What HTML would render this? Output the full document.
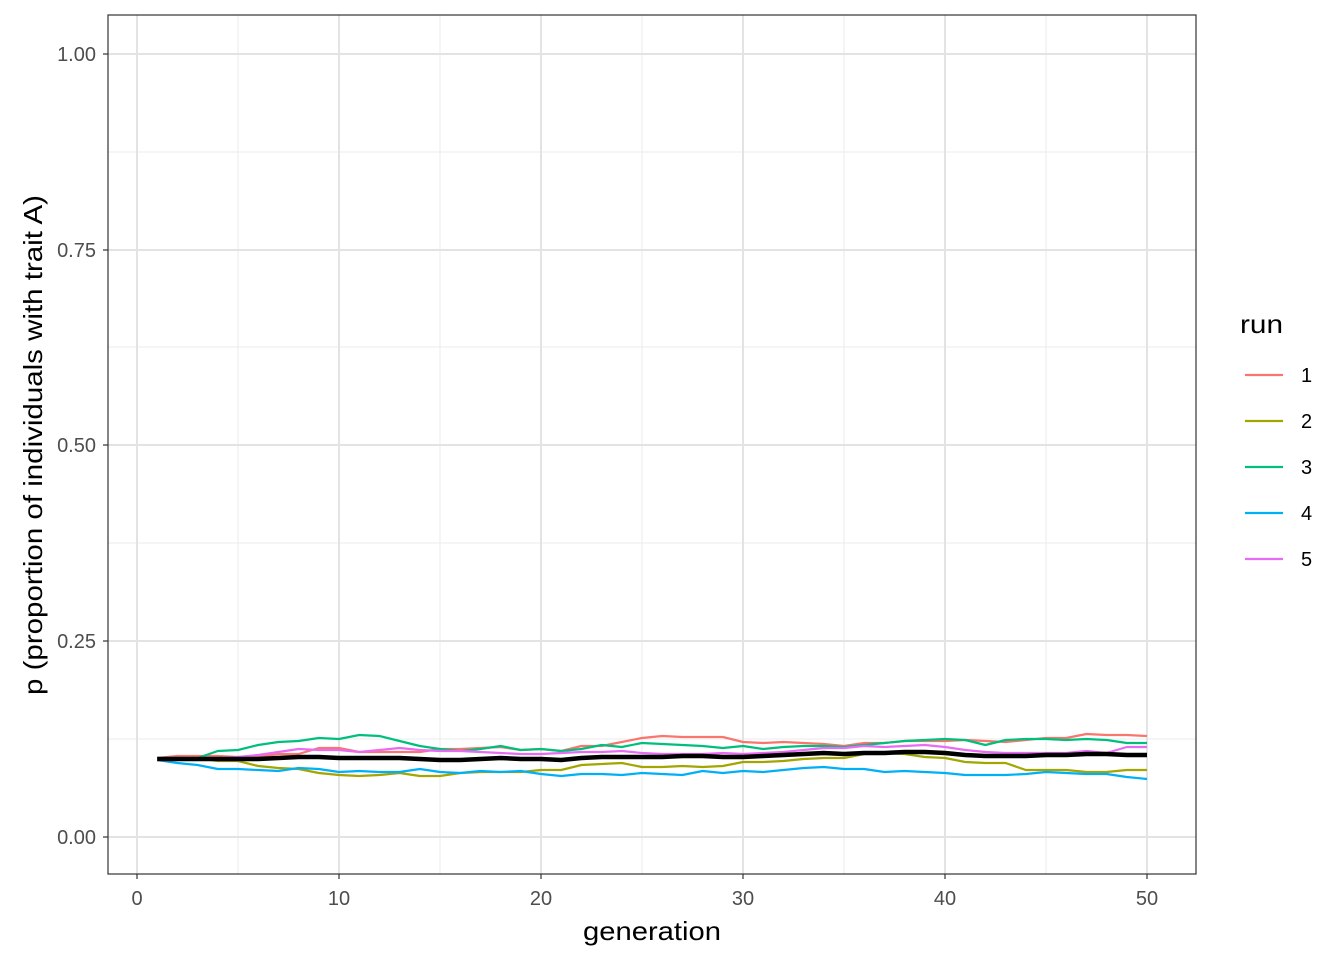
<!DOCTYPE html>
<html><head><meta charset="utf-8"><style>body{margin:0;background:#fff}svg{display:block;font-family:"Liberation Sans",sans-serif}</style></head>
<body>
<svg id="s" width="1344" height="960" xmlns="http://www.w3.org/2000/svg">
<rect width="1344" height="960" fill="#fff"/>
<g stroke="#ebebeb" stroke-width="1">
<line x1="108" x2="1196" y1="739" y2="739"/><line x1="108" x2="1196" y1="543" y2="543"/><line x1="108" x2="1196" y1="347" y2="347"/><line x1="108" x2="1196" y1="152" y2="152"/>
<line y1="15" y2="874" x1="238" x2="238"/><line y1="15" y2="874" x1="440" x2="440"/><line y1="15" y2="874" x1="642" x2="642"/><line y1="15" y2="874" x1="844" x2="844"/><line y1="15" y2="874" x1="1046" x2="1046"/>
</g>
<g stroke="#e3e3e3" stroke-width="2">
<line x1="108" x2="1196" y1="837" y2="837"/><line x1="108" x2="1196" y1="641" y2="641"/><line x1="108" x2="1196" y1="445" y2="445"/><line x1="108" x2="1196" y1="250" y2="250"/><line x1="108" x2="1196" y1="54" y2="54"/>
<line y1="15" y2="874" x1="137" x2="137"/><line y1="15" y2="874" x1="339" x2="339"/><line y1="15" y2="874" x1="541" x2="541"/><line y1="15" y2="874" x1="743" x2="743"/><line y1="15" y2="874" x1="945" x2="945"/><line y1="15" y2="874" x1="1147" x2="1147"/>
</g>
<g id="lines" fill="none" stroke-linejoin="round"></g>
<rect x="108" y="15" width="1088" height="859" fill="none" stroke="#333" stroke-width="1.2"/>
<g font-size="20" fill="#4d4d4d" text-anchor="end">
<text x="96" y="844">0.00</text><text x="96" y="648">0.25</text><text x="96" y="452">0.50</text><text x="96" y="257">0.75</text><text x="96" y="61">1.00</text>
</g>
<g stroke="#333" stroke-width="1.2">
<line x1="103" x2="108" y1="837" y2="837"/><line x1="103" x2="108" y1="641" y2="641"/><line x1="103" x2="108" y1="445" y2="445"/><line x1="103" x2="108" y1="250" y2="250"/><line x1="103" x2="108" y1="54" y2="54"/>
<line y1="874" y2="879" x1="137" x2="137"/><line y1="874" y2="879" x1="339" x2="339"/><line y1="874" y2="879" x1="541" x2="541"/><line y1="874" y2="879" x1="743" x2="743"/><line y1="874" y2="879" x1="945" x2="945"/><line y1="874" y2="879" x1="1147" x2="1147"/>
</g>
<g font-size="20" fill="#4d4d4d" text-anchor="middle">
<text x="137" y="905">0</text><text x="339" y="905">10</text><text x="541" y="905">20</text><text x="743" y="905">30</text><text x="945" y="905">40</text><text x="1147" y="905">50</text>
</g>
<text x="583" y="940" font-size="26" textLength="138" lengthAdjust="spacingAndGlyphs" fill="#000">generation</text>
<text transform="translate(42,695) rotate(-90)" font-size="26" textLength="500" lengthAdjust="spacingAndGlyphs" fill="#000">p (proportion of individuals with trait A)</text>
<text x="1240" y="333" font-size="26" textLength="43" lengthAdjust="spacingAndGlyphs" fill="#000">run</text>
<g stroke-width="2.2">
<line x1="1245" x2="1283" y1="375" y2="375" stroke="#F8766D"/><line x1="1245" x2="1283" y1="421" y2="421" stroke="#A3A500"/><line x1="1245" x2="1283" y1="467" y2="467" stroke="#00BF7D"/><line x1="1245" x2="1283" y1="513" y2="513" stroke="#00B0F6"/><line x1="1245" x2="1283" y1="559" y2="559" stroke="#E76BF3"/>
</g>
<g font-size="20" fill="#000"><text x="1301" y="382">1</text><text x="1301" y="428">2</text><text x="1301" y="474">3</text><text x="1301" y="520">4</text><text x="1301" y="566">5</text></g>
</svg>
<script>
var d=[
["#F8766D",2.2,[758,756,756,756,757,757,754,754,748,748,752,752,752,752,749,749,748,747,750,749,751,746,746,742,738,736,737,737,737,742,743,742,743,744,746,743,743,741,741,741,740,741,742,740,738,738,734,735,735,736]],
["#A3A500",2.2,[758,758,758,761,761,766,768,769,773,775,776,775,773,776,776,773,772,772,772,770,770,765,764,763,767,767,766,767,766,762,762,761,759,758,758,754,753,754,757,758,762,763,763,770,770,770,772,772,770,770]],
["#00BF7D",2.2,[758,758,758,751,750,745,742,741,738,739,735,736,741,746,749,751,749,746,750,749,751,749,745,747,743,744,745,746,748,746,749,747,746,746,747,745,743,741,740,739,740,745,740,739,739,740,739,740,743,743]],
["#00B0F6",2.2,[760,763,765,769,769,770,771,768,769,772,771,772,772,769,772,773,771,772,771,774,776,774,774,775,773,774,775,771,773,771,772,770,768,767,769,769,772,771,772,773,775,775,775,774,772,773,774,774,777,779]],
["#E76BF3",2.2,[758,758,758,758,757,755,752,749,750,750,752,750,748,750,751,751,752,753,754,754,753,752,752,751,753,754,754,754,753,754,753,752,750,748,748,746,747,746,745,747,750,752,753,753,753,753,751,753,747,747]],
["#000",4.5,[759,759,759,759,759,759,758,757,757,758,758,758,758,759,760,760,759,758,759,759,760,758,757,757,757,757,756,756,757,757,756,755,754,753,754,753,753,752,752,753,755,756,756,756,755,755,754,754,755,755]]];
var g=document.getElementById('lines'),ns='http://www.w3.org/2000/svg';
d.forEach(function(s){var p=document.createElementNS(ns,'polyline');
p.setAttribute('points',s[2].map(function(y,i){return (137+20.2*(i+1)).toFixed(1)+','+y}).join(' '));
p.setAttribute('stroke',s[0]);p.setAttribute('stroke-width',s[1]);g.appendChild(p);});
</script>
</body></html>
